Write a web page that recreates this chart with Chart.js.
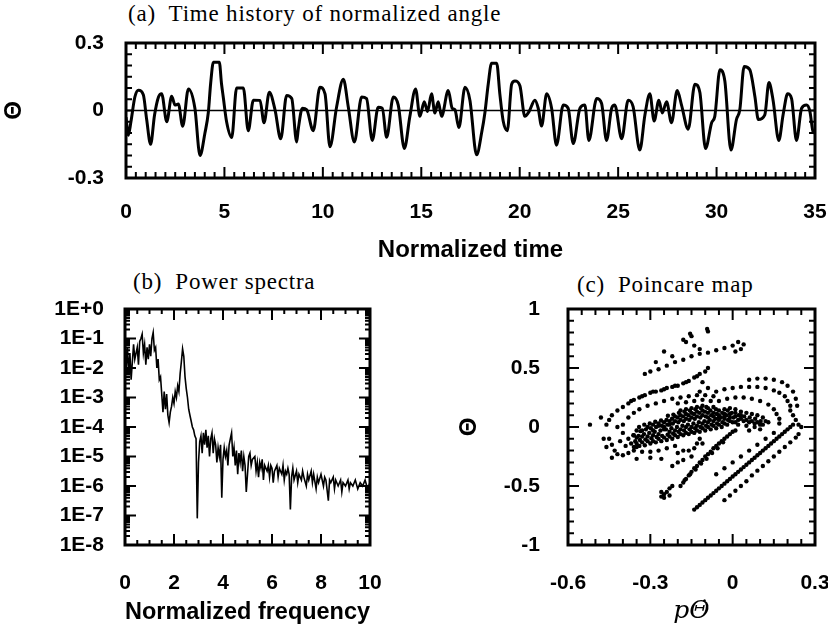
<!DOCTYPE html>
<html>
<head>
<meta charset="utf-8">
<script src="https://cdn.jsdelivr.net/npm/chart.js@4.4.1/dist/chart.umd.min.js"></script>
<style>
  body { margin: 0; width: 828px; height: 630px; background: #fff; position: relative; overflow: hidden; }
  canvas { position: absolute; }
  .ptitle { position: absolute; font-family: "Liberation Serif", serif; font-size: 23px; letter-spacing: 0.8px; white-space: pre; color: #000; }
</style>
</head>
<body>
<div class="ptitle" style="left:128px;top:1px">(a)  Time history of normalized angle</div>
<div class="ptitle" style="left:133px;top:269px">(b)  Power spectra</div>
<div class="ptitle" style="left:577px;top:272px">(c)  Poincare map</div>
<canvas id="chartA" width="828" height="265" style="left:0;top:0"></canvas>
<canvas id="chartB" width="400" height="365" style="left:0;top:265px"></canvas>
<canvas id="chartC" width="428" height="365" style="left:400px;top:265px"></canvas>
<script>
// (a) normalized angle vs normalized time
const timeT = [0.00,0.12,0.25,0.45,0.63,0.88,1.05,1.25,1.45,1.65,1.81,2.07,2.32,2.49,2.66,2.88,3.17,3.50,3.76,4.01,4.18,4.30,4.44,4.74,4.85,4.94,5.11,5.37,5.62,5.96,6.21,6.47,6.81,7.01,7.28,7.57,7.86,8.16,8.42,8.67,
  8.75,8.96,9.18,9.51,9.85,10.11,10.36,10.70,11.04,11.29,11.60,11.97,12.22,12.51,12.81,13.02,13.24,13.58,13.83,14.14,14.42,14.71,14.93,15.15,15.32,15.52,15.69,15.86,16.03,16.37,16.57,16.71,16.91,17.22,17.47,
  17.81,18.07,18.23,18.40,18.57,18.83,18.99,19.16,19.37,19.59,19.76,20.01,20.26,20.48,20.77,20.94,21.11,21.37,21.62,21.87,22.21,22.46,22.72,23.06,23.31,23.51,23.91,24.16,24.41,24.67,24.83,25.18,25.51,25.76,26.10,
  26.36,26.61,26.83,27.07,27.24,27.46,27.71,28.00,28.22,28.56,28.90,29.15,29.44,29.75,29.91,30.17,30.42,30.73,31.01,31.18,31.40,31.69,31.95,32.12,32.45,32.66,32.87,33.16,33.38,33.61,33.81,34.06,34.32,34.57,34.74,34.91,35.00];
const theta = [-0.03,-0.11,-0.05,0.06,0.09,0.07,-0.04,-0.15,-0.02,0.06,0.075,-0.05,0.063,0.024,0.029,-0.07,0.096,0.01,-0.20,-0.10,-0.01,0.12,0.215,0.215,0.12,0.06,-0.05,-0.12,0.10,0.10,-0.09,0.046,0.045,-0.054,0.081,0.003,-0.126,0.067,0.053,-0.14,
  -0.083,0.01,0.003,-0.09,0.103,0.074,-0.161,0.017,0.139,0.017,-0.14,0.06,0.053,-0.133,0.014,0.01,-0.119,0.06,0.024,-0.169,-0.026,0.096,-0.026,0.039,-0.004,0.074,-0.011,0.039,-0.026,0.089,0.01,0.003,-0.076,0.103,0.046,
  -0.197,-0.097,-0.011,0.117,0.21,0.21,0.074,-0.047,-0.09,0.117,0.131,0.110,-0.026,-0.004,0.046,0.01,-0.069,0.074,0.01,-0.154,0.024,0.01,-0.147,0.01,0.024,-0.133,0.053,0.031,-0.133,0.01,0.024,-0.126,0.046,0.017,-0.176,
  -0.02,0.074,-0.047,0.046,-0.011,0.039,-0.054,0.089,0.024,-0.083,0.117,0.081,-0.169,-0.054,-0.026,0.181,0.131,-0.176,-0.04,0.003,0.196,0.181,0.06,-0.04,-0.019,0.124,0.046,-0.133,-0.019,0.074,0.053,-0.133,0.01,0.024,-0.004,-0.097,-0.10];
const thetaTicks = [-0.3, 0, 0.3];

// (b) power spectrum
const freq = [0,0.05,0.1,0.15,0.2,0.25,0.3,0.35,0.4,0.5,0.55,0.6,0.65,0.7,0.75,0.8,0.85,0.9,0.95,1.0,1.05,1.1,1.15,1.2,1.25,1.3,1.35,1.4,1.45,1.5,1.55,1.6,1.65,1.7,1.75,1.8,1.85,1.9,1.95,2.0,
  2.05,2.1,2.15,2.2,2.25,2.3,2.35,2.4,2.45,2.5,2.55,2.6,2.65,2.7,2.75,2.8,2.85,2.9,2.95,3.0,3.05,3.1,3.15,3.2,3.25,3.3,3.35,3.4,3.45,3.5,3.55,3.6,3.65,3.7,3.75,3.8,3.85,3.9,3.95,4.0,
  4.05,4.1,4.15,4.2,4.25,4.3,4.35,4.4,4.45,4.5,4.55,4.6,4.65,4.7,4.75,4.8,4.85,4.9,4.95,5.0,5.05,5.1,5.15,5.2,5.3,5.35,5.4,5.45,5.5,5.55,5.6,5.65,5.7,5.8,5.85,5.9,5.95,6.0,
  6.05,6.1,6.2,6.25,6.3,6.4,6.45,6.5,6.55,6.6,6.65,6.7,6.75,6.8,6.85,6.9,7.0,7.05,7.1,7.2,7.25,7.3,7.4,7.45,7.5,7.6,7.65,7.7,7.8,7.85,7.9,8.0,8.1,8.15,8.2,8.3,8.35,8.4,8.5,8.55,8.6,8.7,8.8,8.85,8.9,
  9.0,9.1,9.15,9.2,9.3,9.4,9.5,9.6,9.7,9.8,9.9,10.0];
const power = [1e-1,1e-2,5e-2,6.3e-3,3.2e-2,4e-3,1.6e-2,6.3e-2,2e-2,5e-2,1.3e-2,7.9e-2,1e-1,1.4e-1,3.2e-2,6.3e-2,1.3e-2,5e-2,2e-2,6.3e-2,2.5e-2,1e-1,1.6e-1,4e-2,5e-2,1e-2,2e-2,4e-3,5e-3,1.3e-3,3.2e-4,1.6e-3,4e-4,1.3e-3,2.5e-4,1.4e-4,3.2e-4,5e-4,1e-3,6.3e-4,
  1.6e-3,1e-3,2.5e-3,1.6e-3,6.3e-3,1.6e-2,4.5e-2,2.5e-2,5e-3,2e-3,1e-3,4e-4,2.5e-4,1.6e-4,1e-4,8e-5,5e-5,4e-5,8e-8,6.3e-6,3.2e-5,5e-5,1.3e-5,6.3e-5,2.5e-5,8e-5,2e-5,5e-5,1e-5,4e-5,6.3e-5,1.3e-5,4e-5,2.5e-5,6.3e-6,2e-5,1e-5,2.5e-5,4e-7,8e-6,
  2e-5,1e-5,1.6e-5,5e-6,2.5e-5,4e-5,6.3e-5,1e-5,2e-5,5e-6,1.6e-5,2.5e-6,1.3e-5,6.3e-6,1.6e-5,3.2e-6,1e-5,5e-6,6.3e-7,2.5e-6,1e-5,1.3e-5,5e-6,8e-6,1e-5,3.2e-6,6.3e-6,2e-6,6.3e-6,4e-6,8e-6,1.6e-6,5e-6,3.2e-6,5e-6,2e-6,5e-6,4e-6,
  1.3e-6,3.2e-6,5e-6,2e-6,4e-6,2.5e-6,5e-6,1.6e-6,3.2e-6,2.5e-6,4e-6,2.5e-6,1.6e-7,2e-6,4e-6,1.6e-6,3.2e-6,1.3e-6,2.5e-6,1.6e-6,3.2e-6,2e-6,1e-6,2.5e-6,1.6e-6,3.2e-6,1.3e-6,2.5e-6,8e-7,2e-6,1.3e-6,2.5e-6,1e-6,2e-6,1.6e-6,3.2e-7,1.6e-6,1.3e-6,2e-6,8e-7,1.6e-6,1e-6,1.6e-6,6.3e-7,1.3e-6,
  1e-6,1.6e-6,8e-7,1.3e-6,1e-6,1.6e-6,8e-7,1.3e-6,1e-6,1.6e-6,8e-7,1.3e-6];
const powerTicks = [1e-8, 1e-7, 1e-6, 1e-5, 1e-4, 1e-3, 1e-2, 1e-1, 1];

// (c) Poincare map points [p*dTheta, Theta]
const poincare = [
  // central dense band
  [-0.36,-0.17],[-0.355,-0.12],[-0.362,-0.07],[-0.35,-0.03],
  [-0.34,-0.16],[-0.338,-0.11],[-0.343,-0.075],[-0.336,-0.035],[-0.341,0.0],
  [-0.32,-0.155],[-0.318,-0.105],[-0.323,-0.06],[-0.316,-0.02],[-0.322,0.02],
  [-0.30,-0.14],[-0.296,-0.095],[-0.304,-0.05],[-0.298,-0.01],[-0.302,0.03],
  [-0.28,-0.13],[-0.277,-0.085],[-0.284,-0.04],[-0.279,0.0],[-0.282,0.045],
  [-0.26,-0.12],[-0.257,-0.075],[-0.263,-0.03],[-0.258,0.01],[-0.261,0.055],
  [-0.24,-0.11],[-0.237,-0.065],[-0.243,-0.02],[-0.238,0.02],[-0.241,0.06],[-0.236,0.095],
  [-0.22,-0.1],[-0.217,-0.055],[-0.223,-0.01],[-0.218,0.03],[-0.221,0.07],[-0.216,0.105],
  [-0.2,-0.085],[-0.197,-0.04],[-0.203,0.0],[-0.198,0.04],[-0.201,0.08],[-0.196,0.12],
  [-0.18,-0.07],[-0.177,-0.03],[-0.183,0.01],[-0.178,0.05],[-0.181,0.09],[-0.176,0.13],
  [-0.16,-0.06],[-0.157,-0.02],[-0.163,0.02],[-0.158,0.06],[-0.161,0.1],[-0.156,0.14],
  [-0.14,-0.05],[-0.137,-0.01],[-0.143,0.03],[-0.138,0.07],[-0.141,0.11],[-0.136,0.15],
  [-0.12,-0.04],[-0.117,0.0],[-0.123,0.04],[-0.118,0.08],[-0.121,0.12],[-0.116,0.16],
  [-0.1,-0.03],[-0.097,0.01],[-0.103,0.05],[-0.098,0.09],[-0.101,0.13],[-0.096,0.17],
  [-0.08,-0.02],[-0.077,0.02],[-0.083,0.06],[-0.078,0.1],[-0.081,0.14],
  [-0.06,-0.01],[-0.057,0.03],[-0.063,0.07],[-0.058,0.11],[-0.061,0.15],
  [-0.04,0.0],[-0.037,0.04],[-0.043,0.08],[-0.038,0.12],
  [-0.02,0.02],[-0.017,0.06],[-0.023,0.1],[-0.018,0.14],
  [0.0,0.04],[0.003,0.08],[-0.003,0.12],[0.02,0.06],[0.022,0.1],[0.04,0.05],[0.042,0.09],
  [0.06,0.04],[0.062,0.08],[0.08,0.03],[0.082,0.07],[0.1,0.02],[0.102,0.05],
  [-0.35,-0.14],[-0.33,-0.13],[-0.31,-0.08],[-0.29,-0.12],[-0.27,-0.06],[-0.25,-0.09],[-0.23,-0.04],[-0.21,-0.07],[-0.19,-0.02],[-0.17,-0.05],
  [-0.15,0.0],[-0.13,-0.03],[-0.11,0.03],[-0.09,0.0],[-0.07,0.05],[-0.05,0.02],[-0.03,0.07],[-0.01,0.05],[0.01,0.09],[0.03,0.07],[0.05,0.06],[0.07,0.05],[0.09,0.04],
  [-0.33,-0.03],[-0.31,0.0],[-0.29,0.02],[-0.27,0.03],[-0.25,0.04],[-0.23,0.05],[-0.21,0.09],[-0.19,0.1],[-0.17,0.11],[-0.15,0.12],[-0.13,0.13],[-0.11,0.14],[-0.09,0.12],[-0.07,0.12],[-0.05,0.1],[-0.03,0.11],
  [-0.35,-0.09],[-0.33,-0.08],[-0.31,-0.12],[-0.29,-0.07],[-0.27,-0.1],[-0.25,-0.02],[-0.23,-0.08],[-0.21,-0.03],[-0.19,-0.06],[-0.17,0.0],[-0.15,-0.04],[-0.13,0.01],
  [-0.11,-0.01],[-0.09,0.04],[-0.07,0.01],[-0.05,0.06],[-0.03,0.03],[-0.01,0.08],[0.01,0.04],[0.03,0.1],
  [-0.29,-0.03],[-0.27,0.01],[-0.25,0.0],[-0.23,0.02],[-0.21,0.05],[-0.19,0.06],[-0.17,0.07],[-0.15,0.08],[-0.13,0.09],[-0.11,0.1],[-0.09,0.08],[-0.07,0.09],
  [-0.05,0.08],[-0.03,0.09],[-0.01,0.11],[0.01,0.12],
  [-0.19,0.14],[-0.17,0.15],[-0.15,0.16],[-0.13,0.17],[-0.11,0.18],[-0.09,0.16],[-0.07,0.17],[-0.05,0.14],[-0.03,0.15],[-0.01,0.16],[0.01,0.15],[0.03,0.13],
  [0.05,0.12],[0.07,0.11],[0.09,0.1],[0.11,0.08],[0.12,0.05],
  // upper-left outer arc
  [-0.46,0.02],[-0.45,0.06],[-0.44,0.1],[-0.42,0.14],[-0.40,0.17],[-0.38,0.2],[-0.36,0.23],[-0.34,0.25],[-0.32,0.27],[-0.30,0.29],[-0.28,0.3],[-0.26,0.31],
  [-0.24,0.33],[-0.22,0.34],[-0.20,0.35],[-0.18,0.37],[-0.16,0.39],[-0.14,0.42],[-0.12,0.45],[-0.10,0.47],[-0.09,0.5],
  [-0.37,0.22],[-0.33,0.26],[-0.29,0.3],[-0.25,0.32],[-0.21,0.35],[-0.17,0.38],[-0.13,0.43],
  // inner arc above the band
  [-0.40,0.02],[-0.38,0.08],[-0.36,0.12],[-0.34,0.15],[-0.31,0.18],[-0.28,0.2],[-0.25,0.22],[-0.22,0.24],[-0.19,0.25],[-0.16,0.26],[-0.13,0.27],[-0.1,0.27],[-0.07,0.26],
  [-0.2,0.2],[-0.17,0.21],[-0.14,0.22],[-0.11,0.23],[-0.08,0.22],[-0.12,0.3],[-0.09,0.33],[-0.11,0.38],
  // upper dotted line
  [-0.32,0.45],[-0.3,0.47],[-0.27,0.49],[-0.24,0.52],[-0.21,0.55],[-0.18,0.57],[-0.15,0.6],[-0.12,0.62],[-0.09,0.63],[-0.06,0.65],[-0.03,0.67],[0.0,0.69],
  [0.02,0.72],[0.04,0.7],[0.03,0.66],[0.01,0.64],
  // top scattered points
  [-0.155,0.79],[-0.15,0.77],[-0.093,0.83],[-0.09,0.81],[-0.18,0.74],[-0.17,0.72],[-0.25,0.64],[-0.14,0.69],[-0.12,0.66],[-0.28,0.55],[-0.22,0.6],
  // right arcs
  [-0.06,0.3],[-0.03,0.32],[0.0,0.33],[0.03,0.34],[0.06,0.34],[0.09,0.34],[0.12,0.33],[0.15,0.31],[0.17,0.29],[0.19,0.26],[0.2,0.22],[0.21,0.18],[0.21,0.14],[0.22,0.1],[0.23,0.06],[0.24,0.02],[0.25,0.0],
  [0.06,0.4],[0.09,0.41],[0.12,0.41],[0.15,0.4],[0.18,0.38],[0.2,0.35],[0.22,0.3],[0.23,0.24],[0.235,0.18],
  [-0.05,0.22],[-0.02,0.24],[0.01,0.25],[0.04,0.25],[0.07,0.24],[0.1,0.22],[0.13,0.19],[0.15,0.15],[0.16,0.11],[0.17,0.07],[0.17,0.03],
  [0.02,0.02],[0.05,0.01],[0.08,0.0],[0.11,0.02],[0.13,0.04],[0.1,-0.02],[0.06,-0.03],
  // lower-left lobe
  [-0.45,-0.1],[-0.44,-0.15],[-0.43,-0.2],[-0.42,-0.23],[-0.4,-0.24],[-0.38,-0.22],[-0.36,-0.2],[-0.33,-0.21],[-0.3,-0.21],[-0.27,-0.2],[-0.24,-0.18],[-0.21,-0.16],
  [-0.4,-0.05],[-0.41,-0.12],[-0.39,-0.16],[-0.37,-0.14],[-0.35,-0.17],[-0.38,-0.1],[-0.36,-0.07],[-0.42,0.0],[-0.48,0.08],[-0.52,0.02],[-0.46,-0.17],[-0.47,-0.1],
  [-0.44,-0.26],[-0.3,-0.26],[-0.26,-0.27],[-0.35,-0.27],
  // hook under the band
  [-0.12,-0.1],[-0.13,-0.14],[-0.14,-0.18],[-0.16,-0.2],[-0.18,-0.2],[-0.2,-0.22],[-0.11,-0.14],[-0.15,-0.25],[-0.2,-0.3],[-0.22,-0.33],[-0.18,-0.28],
  // lower diagonal bands
  [-0.26,-0.59],[-0.25,-0.57],[-0.24,-0.55],[-0.23,-0.52],[-0.22,-0.5],[-0.25,-0.6],[-0.26,-0.55],[-0.23,-0.58],
  [-0.19,-0.5],[-0.18,-0.47],[-0.17,-0.44],[-0.16,-0.41],[-0.15,-0.38],[-0.14,-0.35],[-0.13,-0.33],[-0.12,-0.3],[-0.11,-0.28],[-0.1,-0.25],[-0.09,-0.23],
  [-0.08,-0.21],[-0.07,-0.18],[-0.06,-0.16],[-0.05,-0.14],[-0.04,-0.12],[-0.03,-0.1],[-0.02,-0.08],[-0.01,-0.06],[0.0,-0.04],[0.01,-0.03],
  [-0.175,-0.45],[-0.155,-0.4],[-0.135,-0.36],[-0.115,-0.31],[-0.095,-0.27],[-0.075,-0.22],[-0.055,-0.18],[-0.035,-0.13],
  [-0.14,-0.70],[-0.13,-0.68],[-0.12,-0.66],[-0.11,-0.64],[-0.10,-0.62],[-0.09,-0.6],[-0.08,-0.58],[-0.07,-0.56],[-0.06,-0.54],[-0.05,-0.52],[-0.04,-0.5],
  [-0.03,-0.48],[-0.02,-0.46],[-0.01,-0.44],[0.0,-0.42],[0.01,-0.4],[0.02,-0.38],[0.03,-0.36],[0.04,-0.34],[0.05,-0.32],[0.06,-0.3],[0.07,-0.28],[0.08,-0.26],
  [0.09,-0.24],[0.1,-0.22],[0.11,-0.2],[0.12,-0.18],[0.13,-0.16],[0.14,-0.14],[0.15,-0.12],[0.16,-0.1],[0.17,-0.08],[0.18,-0.06],[0.19,-0.04],[0.2,-0.02],[0.21,0.0],[0.22,0.02],
  [-0.03,-0.62],[-0.01,-0.58],[0.01,-0.54],[0.03,-0.5],[0.05,-0.46],[0.07,-0.41],[0.09,-0.37],[0.11,-0.33],[0.13,-0.29],[0.15,-0.25],[0.17,-0.21],[0.19,-0.17],[0.21,-0.13],[0.23,-0.09],[0.24,-0.06],
  [-0.06,-0.4],[-0.03,-0.35],[0.0,-0.3],[0.03,-0.25],[0.06,-0.2],[0.09,-0.15],[0.12,-0.1],[0.15,-0.05]
];
const mapXTicks = [-0.6, -0.3, 0, 0.3];
const mapYTicks = [-1, -0.5, 0, 0.5, 1];

const tickFont = { family: "Liberation Sans", size: 21, weight: "bold" };
const titleFont = { family: "Liberation Sans", size: 24, weight: "bold" };
const thetaFont = { family: "Liberation Sans", size: 24, weight: "bold" };

function range(a, b, step) {
  const out = [];
  for (let v = a; v <= b + 1e-9; v += step) out.push(+v.toFixed(4));
  return out;
}

// frame, zero line and a comb of inward ticks drawn as one continuous path per side
function framePlugin(zeroLine, t) {
  return {
    id: "frame",
    afterDraw(chart) {
      const { ctx, chartArea: a, scales } = chart;
      const x = scales.x, y = scales.y;
      ctx.save();
      ctx.strokeStyle = "#000";
      ctx.lineJoin = "miter";
      if (zeroLine) {
        ctx.lineWidth = 1.5;
        const py = y.getPixelForValue(0);
        ctx.beginPath(); ctx.moveTo(a.left, py); ctx.lineTo(a.right, py); ctx.stroke();
      }
      const lenOf = (v, major) => (major.some(m => Math.abs(m - v) < 1e-9 * Math.max(1, Math.abs(m))) ? t.majorLen : t.minorLen);
      const combX = (edge, dir) => {
        ctx.beginPath();
        ctx.moveTo(a.left, edge);
        t.xMinor.concat(t.xMajor).sort((p, q) => p - q).forEach(v => {
          const px = x.getPixelForValue(v);
          ctx.lineTo(px, edge); ctx.lineTo(px, edge + dir * lenOf(v, t.xMajor)); ctx.lineTo(px, edge);
        });
        ctx.lineTo(a.right, edge);
        ctx.stroke();
      };
      const combY = (edge, dir) => {
        ctx.beginPath();
        ctx.moveTo(edge, a.bottom);
        t.yMinor.concat(t.yMajor).sort((p, q) => p - q).forEach(v => {
          const py = y.getPixelForValue(v);
          ctx.lineTo(edge, py); ctx.lineTo(edge + dir * lenOf(v, t.yMajor), py); ctx.lineTo(edge, py);
        });
        ctx.lineTo(edge, a.top);
        ctx.stroke();
      };
      ctx.lineWidth = 2;
      combX(a.bottom, -1); combX(a.top, 1);
      combY(a.left, 1); combY(a.right, -1);
      ctx.lineWidth = 3;
      ctx.strokeRect(a.left, a.top, a.right - a.left, a.bottom - a.top);
      ctx.restore();
    }
  };
}

const noGrid = { display: false, drawTicks: false };
const setTicks = vals => s => { s.ticks = vals.map(v => ({ value: v })); };
function mainAxis(type, min, max, vals, labelPad, size, label, extra) {
  return Object.assign({
    type, min, max, grid: noGrid, border: { display: false },
    ticks: { color: "#000", font: tickFont, padding: labelPad, maxRotation: 0, autoSkip: false, callback: label },
    afterBuildTicks: setTicks(vals),
    afterFit: s => {
      if (s.isHorizontal()) s.height = size; else s.width = size;
      s.paddingLeft = 0; s.paddingRight = 0; s.paddingTop = 0; s.paddingBottom = 0;
    }
  }, extra);
}

// (a)
new Chart(document.getElementById("chartA"), {
  type: "line",
  data: { datasets: [{ data: timeT.map((t, i) => ({ x: t, y: theta[i] })), borderColor: "#000", borderWidth: 3, pointRadius: 0, cubicInterpolationMode: "monotone" }] },
  options: {
    responsive: false, animation: false, events: [],
    layout: { padding: { top: 43, right: 13, left: 0, bottom: 0 } },
    plugins: { legend: { display: false }, tooltip: { enabled: false } },
    scales: {
      x: mainAxis("linear", 0, 35, range(0, 35, 5), 22, 87, v => String(v),
        { title: { display: true, text: "Normalized time", color: "#000", font: titleFont, padding: { top: 0, bottom: 0 } } }),
      y: mainAxis("linear", -0.3, 0.3, thetaTicks, 22, 126, v => String(v),
        { title: { display: true, text: "Θ", color: "#000", font: thetaFont, padding: { top: 0, bottom: 0 } } })
    }
  },
  plugins: [framePlugin(true, { minorLen: 6, majorLen: 11,
    xMinor: range(0, 35, 0.5), xMajor: range(0, 35, 5), yMinor: range(-0.3, 0.3, 0.05), yMajor: [] })]
});

// (b)
const logMinor = [];
powerTicks.forEach(d => { if (d < 1) for (let k = 2; k <= 9; k++) logMinor.push(d * k); });
new Chart(document.getElementById("chartB"), {
  type: "line",
  data: { datasets: [{ data: freq.map((f, i) => ({ x: f, y: power[i] })), borderColor: "#000", borderWidth: 1.6, pointRadius: 0, tension: 0 }] },
  options: {
    responsive: false, animation: false, events: [],
    layout: { padding: { top: 44, right: 30, left: 0, bottom: 0 } },
    plugins: { legend: { display: false }, tooltip: { enabled: false } },
    scales: {
      x: mainAxis("linear", 0, 10, range(0, 10, 2), 26, 85, v => String(v),
        { title: { display: true, text: "Normalized frequency", color: "#000", font: titleFont, padding: { top: 0, bottom: 3 } } }),
      y: mainAxis("logarithmic", 1e-8, 1, powerTicks, 21, 125,
        v => { const e = Math.round(Math.log10(v)); return "1E" + (e >= 0 ? "+" : "") + e; }, {})
    }
  },
  plugins: [framePlugin(false, { minorLen: 5, majorLen: 11,
    xMinor: range(0, 10, 0.5), xMajor: range(0, 10, 2), yMinor: logMinor, yMajor: powerTicks })]
});

// (c)
new Chart(document.getElementById("chartC"), {
  type: "scatter",
  data: { datasets: [{ data: poincare.map(p => ({ x: p[0], y: p[1] })), backgroundColor: "#000", borderWidth: 0, pointRadius: 2.2 }] },
  options: {
    responsive: false, animation: false, events: [],
    layout: { padding: { top: 44, right: 13, left: 55, bottom: 0 } },
    plugins: { legend: { display: false }, tooltip: { enabled: false } },
    scales: {
      x: mainAxis("linear", -0.6, 0.3, mapXTicks, 26, 85, v => String(v),
        { title: { display: true, text: "pΘ̇", color: "#000", font: { family: "DejaVu Serif", size: 25, style: "italic" }, padding: { top: 0, bottom: 4 } } }),
      y: mainAxis("linear", -1, 1, mapYTicks, 28, 113, v => String(v),
        { title: { display: true, text: "Θ", color: "#000", font: thetaFont, padding: { top: 0, bottom: 0 } } })
    }
  },
  plugins: [framePlugin(false, { minorLen: 6, majorLen: 11,
    xMinor: range(-0.6, 0.3, 0.05), xMajor: mapXTicks, yMinor: range(-1, 1, 0.1), yMajor: mapYTicks })]
});
</script>
</body>
</html>
